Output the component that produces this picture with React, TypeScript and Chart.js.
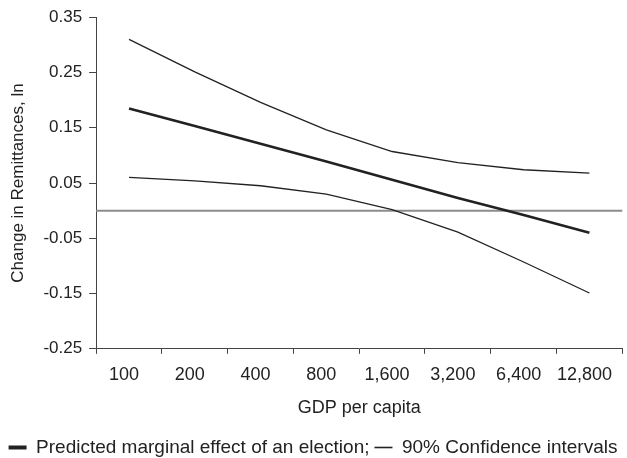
import { useEffect, useRef } from 'react';
import { Chart, registerables } from 'chart.js';

Chart.register(...registerables);

// GDP per capita categories (log2 steps)
const GDP_LABELS = ['100', '200', '400', '800', '1,600', '3,200', '6,400', '12,800'];
// predicted marginal effect of an election
const EFFECT = [0.185, 0.153, 0.121, 0.089, 0.056, 0.023, -0.008, -0.04];
// 90% confidence bounds
const CI_UPPER = [0.31, 0.251, 0.196, 0.146, 0.107, 0.087, 0.074, 0.068];
const CI_LOWER = [0.06, 0.054, 0.045, 0.03, 0.002, -0.039, -0.093, -0.149];
const Y_TICKS = [-0.25, -0.15, -0.05, 0.05, 0.15, 0.25, 0.35];
const ZERO_LINE = 0;

const FONT = "'Liberation Sans', Arial, Helvetica, sans-serif";
const INK = '#222';
const AXIS = '#444';

const zeroLine = {
  id: 'zeroLine',
  beforeDatasetsDraw(chart: Chart) {
    const { ctx, chartArea, scales } = chart;
    const y = scales.y.getPixelForValue(ZERO_LINE);
    ctx.save();
    ctx.strokeStyle = '#8c8c8c';
    ctx.lineWidth = 2;
    ctx.beginPath();
    ctx.moveTo(chartArea.left, y);
    ctx.lineTo(chartArea.right, y);
    ctx.stroke();
    ctx.restore();
  },
};

export default function App() {
  const canvasRef = useRef<HTMLCanvasElement>(null);
  const chartRef = useRef<Chart | null>(null);

  useEffect(() => {
    const canvas = canvasRef.current;
    if (!canvas) return;

    chartRef.current?.destroy();
    chartRef.current = new Chart(canvas, {
      type: 'line',
      data: {
        labels: GDP_LABELS,
        datasets: [
          { label: 'upper', data: CI_UPPER, borderColor: INK, borderWidth: 1.3 },
          { label: 'effect', data: EFFECT, borderColor: INK, borderWidth: 2.6 },
          { label: 'lower', data: CI_LOWER, borderColor: INK, borderWidth: 1.3 },
        ],
      },
      options: {
        responsive: true,
        maintainAspectRatio: false,
        animation: false,
        elements: { point: { radius: 0 }, line: { tension: 0 } },
        layout: { padding: { top: 8, right: 1, left: 0, bottom: -9 } },
        scales: {
          x: {
            type: 'category',
            offset: true,
            grid: { drawOnChartArea: false, drawTicks: true, tickLength: 5, color: AXIS, offset: true },
            border: { display: true, color: AXIS, width: 1 },
            ticks: {
              font: { family: FONT, size: 18 },
              color: INK,
              padding: 10,
              labelOffset: -5,
              maxRotation: 0,
              autoSkip: false,
            },
            title: {
              display: true,
              text: 'GDP per capita',
              font: { family: FONT, size: 18 },
              color: INK,
              padding: { top: 2, bottom: 14 },
            },
          },
          y: {
            min: -0.25,
            max: 0.35,
            afterBuildTicks: (axis) => {
              axis.ticks = Y_TICKS.map((v) => ({ value: v }));
            },
            grid: { drawOnChartArea: false, tickLength: 7, color: AXIS },
            border: { display: true, color: AXIS, width: 1 },
            ticks: {
              font: { family: FONT, size: 17 },
              color: INK,
              padding: 7,
              callback: (v) => Number(v).toFixed(2),
            },
            title: {
              display: true,
              text: 'Change in Remittances, ln',
              font: { family: FONT, size: 17 },
              color: INK,
              padding: { top: 8, bottom: 8 },
            },
          },
        },
        plugins: {
          tooltip: { enabled: false },
          legend: {
            position: 'bottom',
            labels: {
              usePointStyle: true,
              pointStyleWidth: 18,
              padding: 5,
              font: { family: FONT, size: 19 },
              color: INK,
              generateLabels: () => [
                {
                  text: 'Predicted marginal effect of an election;',
                  pointStyle: 'line',
                  lineWidth: 4,
                  strokeStyle: INK,
                  fillStyle: INK,
                  fontColor: INK,
                  hidden: false,
                  datasetIndex: 1,
                },
                {
                  text: '90% Confidence intervals',
                  pointStyle: 'line',
                  lineWidth: 1.6,
                  strokeStyle: INK,
                  fillStyle: INK,
                  fontColor: INK,
                  hidden: false,
                  datasetIndex: 0,
                },
              ],
            },
          },
        },
      },
      plugins: [zeroLine],
    });

    return () => {
      chartRef.current?.destroy();
      chartRef.current = null;
    };
  }, []);

  return (
    <div style={{ position: 'absolute', left: 0, top: 0, width: 627, height: 458, background: '#fff' }}>
      <canvas ref={canvasRef} />
    </div>
  );
}
